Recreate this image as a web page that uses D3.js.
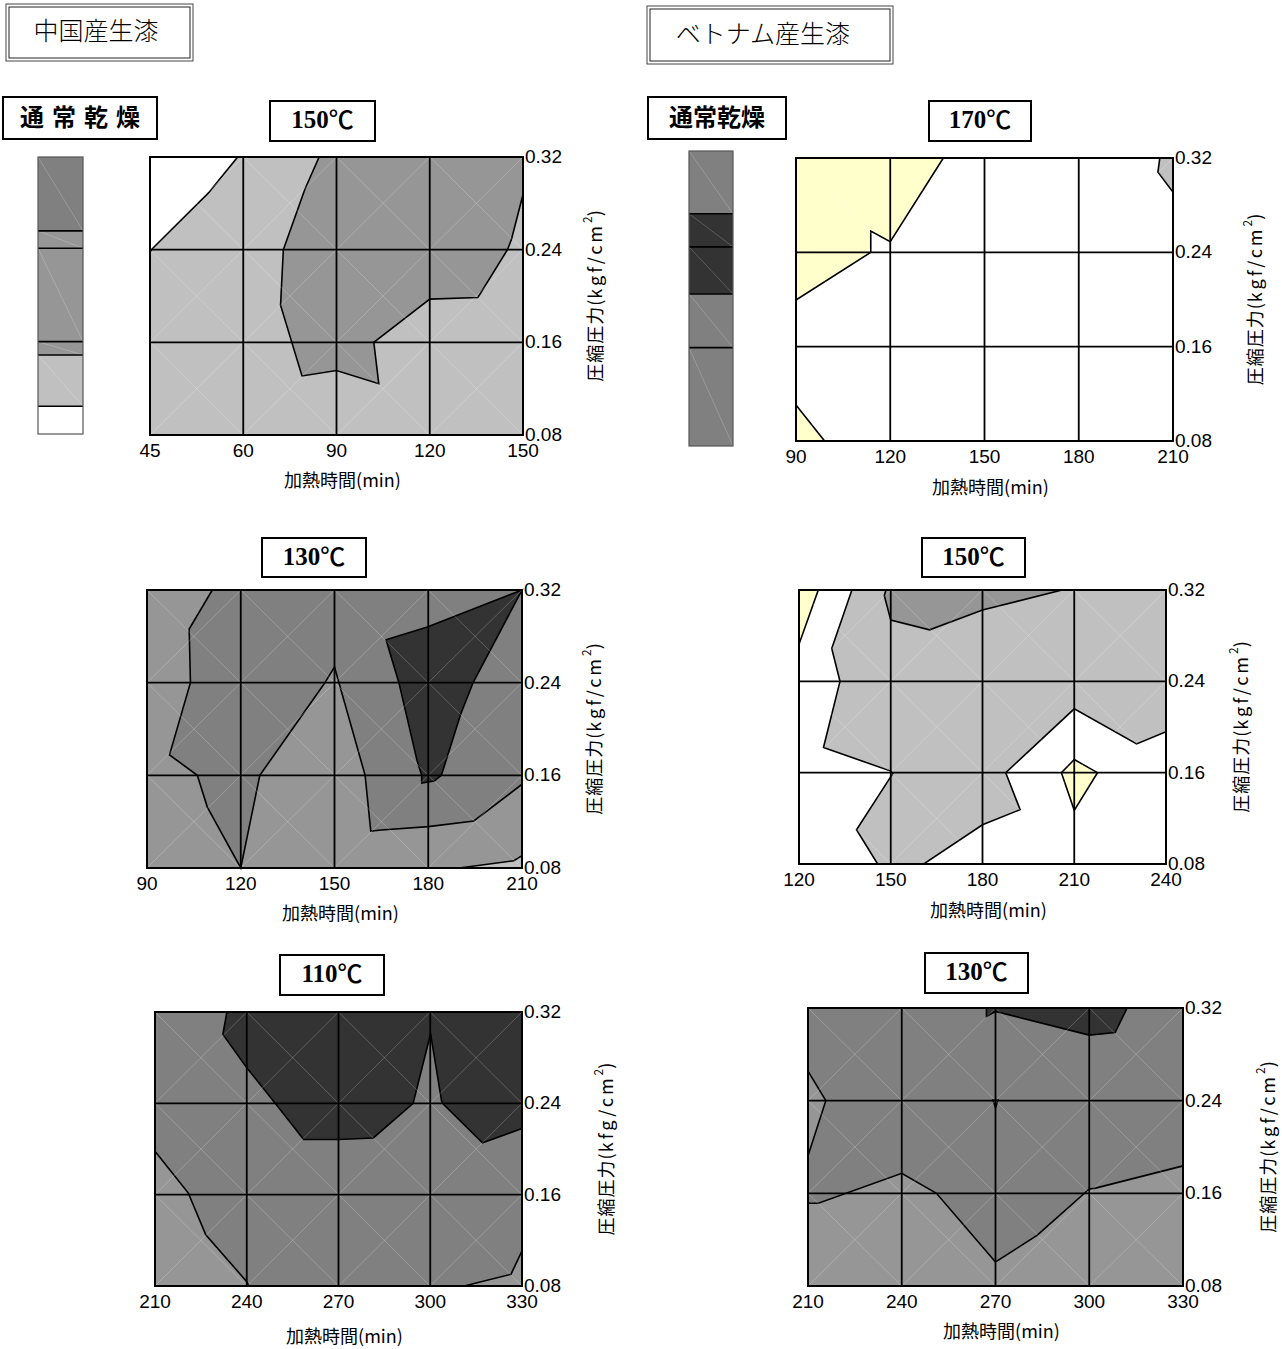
<!DOCTYPE html>
<html>
<head>
<meta charset="utf-8">
<script src="https://cdn.jsdelivr.net/npm/d3@7"></script>
<style>
  body { margin: 0; background: #fff; }
  text { fill: #000; }
</style>
</head>
<body>
<svg id="chart" width="1282" height="1349"></svg>
<script>
// ==================================================
// Daten
// ==================================================
const yTicks = [0.08, 0.16, 0.24, 0.32];

const xTicksCN150 = [45, 60, 90, 120, 150];
const xTicksCN130 = [90, 120, 150, 180, 210];
const xTicksCN110 = [210, 240, 270, 300, 330];
const xTicksVN170 = [90, 120, 150, 180, 210];
const xTicksVN150 = [120, 150, 180, 210, 240];
const xTicksVN130 = [210, 240, 270, 300, 330];

// Grundstufe jeder Karte + Konturflächen [min, kgf/cm2]
const cn150Base = "light";
const cn150Regions = [
  { level: "white", pts: [[45,0.32],[59.1,0.32],[54.4,0.289],[45.4,0.241],[45,0.238]] },
  { level: "mid", pts: [[84.4,0.32],[79.8,0.292],[72.9,0.24],[72.0,0.192],[78.9,0.131],[90,0.1357],
      [103.6,0.1243],[102.0,0.16],[120,0.1973],[135.5,0.1987],[145.0,0.24],[146.3,0.249],
      [150,0.2876],[150,0.32]] }
];

const cn130Base = "mid";
const cn130Regions = [
  { level: "dark", pts: [[110.9,0.32],[103.5,0.2863],[103.9,0.24],[97.2,0.1777],[106.1,0.16],
      [109.3,0.1326],[120,0.08],[126.1,0.16],[146.7,0.239],[150,0.2535],[159.8,0.16],
      [161.6,0.1119],[165,0.1128],[180,0.1157],[194.6,0.1206],[210,0.1523],[210,0.32]] },
  { level: "darkest", pts: [[166.5,0.277],[179.7,0.288],[210,0.32],[194.4,0.2403],[190.4,0.2129],
      [184.2,0.16],[181.9,0.1551],[177.9,0.1534],[177.9,0.16],[176.4,0.1729],[170.6,0.24]] },
  { level: "light", pts: [[189.9,0.08],[207.4,0.0863],[210,0.0907],[210,0.08]] }
];

const cn110Base = "dark";
const cn110Regions = [
  { level: "mid", pts: [[210,0.198],[220.9,0.1614],[226.6,0.1248],[240,0.0838],[240.7,0.08],[210,0.08]] },
  { level: "mid", pts: [[311.1,0.08],[326.4,0.0903],[330,0.1108],[330,0.08]] },
  { level: "darkest", pts: [[233.5,0.32],[232.2,0.3004],[240,0.2712],[249.3,0.24],[258.6,0.2083],
      [270,0.2083],[281.4,0.2097],[294.4,0.24],[300.1,0.301],[303.7,0.242],[304.4,0.239],
      [317.1,0.2054],[330,0.218],[330,0.32]] }
];

const vn170Base = "white";
const vn170Regions = [
  { level: "yellow", pts: [[90,0.32],[136.9,0.32],[120,0.249],[113.8,0.258],[113.8,0.24],[90,0.1996]] },
  { level: "yellow", pts: [[90,0.1105],[99.1,0.08],[90,0.08]] },
  { level: "light", pts: [[205.8,0.32],[205.2,0.308],[210,0.291],[210,0.32]] }
];

const vn150Base = "white";
const vn150Regions = [
  { level: "light", pts: [[137.3,0.32],[130.7,0.2687],[133.4,0.24],[128.0,0.182],[150,0.1614],
      [150.7,0.1594],[138.8,0.11],[145.7,0.08],[160.8,0.08],[180,0.1144],[192.3,0.1276],
      [187.6,0.16],[210,0.2159],[230.4,0.1852],[240,0.1958],[240,0.32]] },
  { level: "mid", pts: [[148.4,0.32],[147.9,0.315],[150,0.2936],[162.7,0.2851],[180,0.3024],[206.0,0.32]] },
  { level: "yellow", pts: [[120,0.32],[126.3,0.32],[120,0.2725]] },
  { level: "yellow", pts: [[210,0.1715],[217.6,0.16],[210,0.127],[205.8,0.16]] }
];

const vn130Base = "dark";
const vn130Regions = [
  { level: "mid", pts: [[210,0.2655],[215.7,0.24],[210,0.1925]] },
  { level: "mid", pts: [[210,0.1514],[213.3,0.1514],[240,0.1773],[251.1,0.16],[270,0.1007],
      [283.4,0.1239],[300,0.1638],[301.7,0.1643],[330,0.1837],[330,0.08],[210,0.08]] },
  { level: "darkest", pts: [[267.1,0.32],[267.1,0.3127],[270,0.317],[300,0.2966],[308.3,0.2989],[312.1,0.32]] },
  { level: "dark", pts: [[269.2,0.2405],[270.8,0.2405],[270,0.234]] }
];

// Normaltrocknung: Bänder [von, bis, Stufe]
const cnDryBands = [[0.256,0.32,"dark"],[0.241,0.256,"mid"],[0.16,0.241,"mid"],
                    [0.1485,0.16,"mid"],[0.104,0.1485,"light"],[0.08,0.104,"white"]];
const vnDryBands = [[0.269,0.32,"dark"],[0.242,0.269,"darkest"],[0.2037,0.242,"darkest"],
                    [0.16,0.2037,"dark"],[0.08,0.16,"dark"]];

// ==================================================
// Stil
// ==================================================
const palette = {
  white: "#ffffff", light: "#c0c0c0", mid: "#969696",
  dark: "#808080", darkest: "#333333", yellow: "#ffffcc"
};
const SANS = "'Liberation Sans', Arial, sans-serif";
const JP = "'Noto Sans CJK JP', sans-serif";
const SERIF = "'Liberation Serif', 'Noto Sans CJK JP', serif";

const svg = d3.select("#chart");

// ==================================================
// Layout der sechs Karten
// ==================================================
const panels = [
  { title: "150", xTicks: xTicksCN150, base: cn150Base, regions: cn150Regions, unit: "kgf",
    x0: 150, x1: 523, y0: 157, y1: 435, tb: [270, 101, 105, 40], yTitleDx: 74, xTitleDy: 47 },
  { title: "130", xTicks: xTicksCN130, base: cn130Base, regions: cn130Regions, unit: "kgf",
    x0: 147, x1: 522, y0: 590, y1: 868, tb: [262, 538, 104, 39], yTitleDx: 74, xTitleDy: 47 },
  { title: "110", xTicks: xTicksCN110, base: cn110Base, regions: cn110Regions, unit: "kfg",
    x0: 155, x1: 522, y0: 1012, y1: 1286, tb: [280, 955, 104, 40], yTitleDx: 86, xTitleDy: 52 },
  { title: "170", xTicks: xTicksVN170, base: vn170Base, regions: vn170Regions, unit: "kgf",
    x0: 796, x1: 1173, y0: 158, y1: 441, tb: [929, 101, 102, 40], yTitleDx: 84, xTitleDy: 48 },
  { title: "150", xTicks: xTicksVN150, base: vn150Base, regions: vn150Regions, unit: "kgf",
    x0: 799, x1: 1166, y0: 590, y1: 864, tb: [922, 538, 103, 39], yTitleDx: 77, xTitleDy: 48 },
  { title: "130", xTicks: xTicksVN130, base: vn130Base, regions: vn130Regions, unit: "kgf",
    x0: 808, x1: 1183, y0: 1008, y1: 1286, tb: [925, 953, 103, 40], yTitleDx: 87, xTitleDy: 47 }
];

function drawPanel(p) {
  const g = svg.append("g");

  // Spalten gleichabständig, auch wenn die Minuten es nicht sind (45, 60, 90 ...)
  const x = d3.scaleLinear()
    .domain(p.xTicks)
    .range(p.xTicks.map((_, i) => p.x0 + i * (p.x1 - p.x0) / (p.xTicks.length - 1)));
  const y = d3.scaleLinear().domain([0.08, 0.32]).range([p.y1, p.y0]);

  // Grundfläche
  g.append("rect")
    .attr("x", p.x0).attr("y", p.y0)
    .attr("width", p.x1 - p.x0).attr("height", p.y1 - p.y0)
    .attr("fill", palette[p.base]);

  // Konturflächen
  const line = d3.line().x(d => x(d[0])).y(d => y(d[1])).curve(d3.curveLinearClosed);
  g.selectAll("path.region")
    .data(p.regions)
    .join("path")
    .attr("class", "region")
    .attr("d", d => line(d.pts))
    .attr("fill", d => palette[d.level])
    .attr("stroke", "#000")
    .attr("stroke-width", 1.6)
    .attr("stroke-linejoin", "miter");

  // feine Diagonalen der Triangulation
  const cells = [];
  for (let i = 0; i < p.xTicks.length - 1; i++) {
    for (let j = 0; j < yTicks.length - 1; j++) {
      cells.push([p.xTicks[i], p.xTicks[i + 1], yTicks[j], yTicks[j + 1]]);
    }
  }
  cells.forEach(c => {
    [[c[0], c[2], c[1], c[3]], [c[1], c[2], c[0], c[3]]].forEach(s => {
      g.append("line")
        .attr("x1", x(s[0])).attr("y1", y(s[1]))
        .attr("x2", x(s[2])).attr("y2", y(s[3]))
        .attr("stroke", "#ffffff").attr("stroke-opacity", 0.28).attr("stroke-width", 0.8);
    });
  });

  // Gitter
  g.selectAll("line.vgrid").data(p.xTicks).join("line")
    .attr("class", "vgrid")
    .attr("x1", d => x(d)).attr("x2", d => x(d))
    .attr("y1", p.y0).attr("y2", p.y1)
    .attr("stroke", "#000").attr("stroke-width", 1.8);
  g.selectAll("line.hgrid").data(yTicks).join("line")
    .attr("class", "hgrid")
    .attr("x1", p.x0).attr("x2", p.x1)
    .attr("y1", d => y(d)).attr("y2", d => y(d))
    .attr("stroke", "#000").attr("stroke-width", 1.8);
  g.append("rect")
    .attr("x", p.x0).attr("y", p.y0)
    .attr("width", p.x1 - p.x0).attr("height", p.y1 - p.y0)
    .attr("fill", "none").attr("stroke", "#000").attr("stroke-width", 2);

  // Achsenbeschriftung
  g.selectAll("text.xtick").data(p.xTicks).join("text")
    .attr("class", "xtick")
    .attr("x", d => x(d)).attr("y", p.y1 + 17)
    .attr("text-anchor", "middle").attr("dominant-baseline", "middle")
    .style("font-family", SANS).style("font-size", "19px")
    .text(d => d);
  g.selectAll("text.ytick").data(yTicks).join("text")
    .attr("class", "ytick")
    .attr("x", p.x1 + 2).attr("y", d => y(d) + 1)
    .attr("dominant-baseline", "middle")
    .style("font-family", SANS).style("font-size", "19px")
    .text(d => d.toFixed(2));

  g.append("text")
    .attr("x", (p.x0 + p.x1) / 2 + 6).attr("y", p.y1 + p.xTitleDy)
    .attr("text-anchor", "middle").attr("dominant-baseline", "middle")
    .style("font-family", JP).style("font-size", "18px")
    .text("加熱時間(min)");

  const yt = g.append("text")
    .attr("transform", `translate(${p.x1 + p.yTitleDx},${(p.y0 + p.y1) / 2}) rotate(-90)`)
    .attr("text-anchor", "middle").attr("dominant-baseline", "middle")
    .style("font-family", JP).style("font-size", "18px");
  yt.append("tspan").style("letter-spacing", "1px").text("圧縮圧力(");
  yt.append("tspan").style("letter-spacing", "3px").text(p.unit + "/cm");
  yt.append("tspan").attr("dy", -8).style("font-size", "12px").text("2");
  yt.append("tspan").attr("dy", 8).text(")");

  // Temperaturkasten
  const [bx, by, bw, bh] = p.tb;
  g.append("rect")
    .attr("x", bx).attr("y", by).attr("width", bw).attr("height", bh)
    .attr("fill", "#fff").attr("stroke", "#000").attr("stroke-width", 2);
  const tt = g.append("text")
    .attr("x", bx + bw / 2).attr("y", by + bh / 2 + 1)
    .attr("text-anchor", "middle").attr("dominant-baseline", "middle")
    .style("font-size", "25px").style("font-weight", 700);
  tt.append("tspan").style("font-family", SERIF).text(p.title);
  tt.append("tspan").style("font-family", JP).style("font-weight", 500).text("℃");
}

panels.forEach(drawPanel);

// ==================================================
// Normaltrocknung (Streifen links)
// ==================================================
function drawDryBar(bands, bx, bw, top, bottom) {
  const y = d3.scaleLinear().domain([0.08, 0.32]).range([bottom, top]);
  const g = svg.append("g");
  g.selectAll("rect.band").data(bands).join("rect")
    .attr("class", "band")
    .attr("x", bx).attr("width", bw)
    .attr("y", d => y(d[1])).attr("height", d => y(d[0]) - y(d[1]))
    .attr("fill", d => palette[d[2]]);
  g.selectAll("line.diag").data(bands).join("line")
    .attr("class", "diag")
    .attr("x1", bx).attr("y1", d => y(d[1]))
    .attr("x2", bx + bw).attr("y2", d => y(d[0]))
    .attr("stroke", "#fff").attr("stroke-opacity", 0.25).attr("stroke-width", 0.8);
  g.selectAll("line.sep").data(bands.slice(1)).join("line")
    .attr("class", "sep")
    .attr("x1", bx).attr("x2", bx + bw)
    .attr("y1", d => y(d[1])).attr("y2", d => y(d[1]))
    .attr("stroke", "#000").attr("stroke-width", 1.6);
  g.append("rect")
    .attr("x", bx).attr("y", top).attr("width", bw).attr("height", bottom - top)
    .attr("fill", "none").attr("stroke", "#555").attr("stroke-width", 1.2);
}
drawDryBar(cnDryBands, 38, 45, 157, 434);
drawDryBar(vnDryBands, 689, 44, 151, 446);

// ==================================================
// Überschriften
// ==================================================
function doubleBox(x, y, w, h, label, cx) {
  svg.append("rect").attr("x", x).attr("y", y).attr("width", w).attr("height", h)
    .attr("fill", "#fff").attr("stroke", "#444").attr("stroke-width", 1);
  svg.append("rect").attr("x", x + 3).attr("y", y + 3).attr("width", w - 6).attr("height", h - 6)
    .attr("fill", "none").attr("stroke", "#222").attr("stroke-width", 1);
  svg.append("text")
    .attr("x", cx).attr("y", y + h / 2 + 1)
    .attr("text-anchor", "middle").attr("dominant-baseline", "middle")
    .style("font-family", JP).style("font-size", "25px").style("font-weight", 300)
    .text(label);
}
doubleBox(6, 4, 187, 57, "中国産生漆", 96);
doubleBox(647, 6, 246, 58, "ベトナム産生漆", 763);

function plainBox(x, y, w, h, label, spacing) {
  svg.append("rect").attr("x", x).attr("y", y).attr("width", w).attr("height", h)
    .attr("fill", "#fff").attr("stroke", "#000").attr("stroke-width", 2);
  svg.append("text")
    .attr("x", x + w / 2 + spacing / 2).attr("y", y + h / 2 + 1)
    .attr("text-anchor", "middle").attr("dominant-baseline", "middle")
    .style("font-family", JP).style("font-size", "24px").style("font-weight", 700)
    .style("letter-spacing", spacing + "px")
    .text(label);
}
plainBox(3, 97, 154, 42, "通常乾燥", 8);
plainBox(648, 97, 138, 42, "通常乾燥", 0);
</script>
</body>
</html>
